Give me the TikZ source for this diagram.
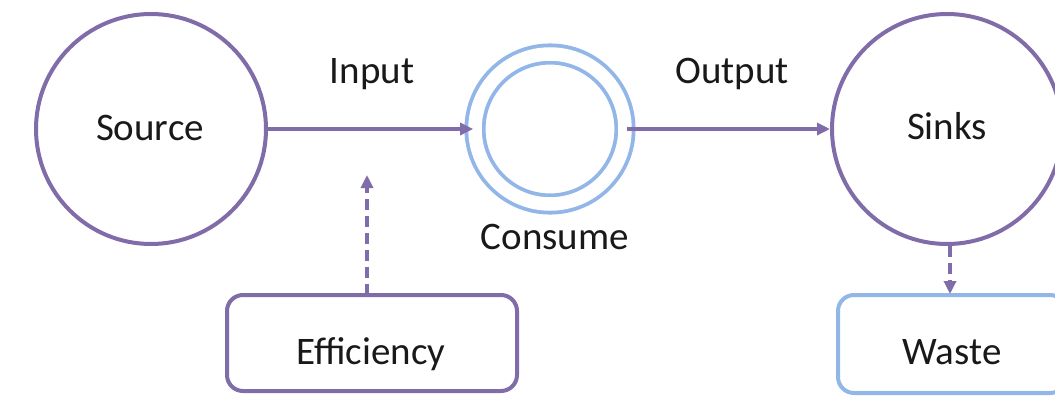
\documentclass[tikz,border=0pt]{standalone}
\usepackage{fontspec}
\setmainfont{Carlito}
\usetikzlibrary{arrows.meta}
\definecolor{flowpurple}{RGB}{128,108,168}
\definecolor{flowblue}{RGB}{146,182,232}
\definecolor{inktext}{RGB}{25,25,25}
\tikzset{
  every node/.style={font=\fontsize{39}{44}\selectfont, text=inktext},
  bigcircle/.style={circle, draw=flowpurple, line width=4pt, minimum size=230pt, inner sep=0pt},
  ringcircle/.style={circle, draw=flowblue, line width=3.8pt, double=white, double distance=13.5pt, minimum size=150pt, inner sep=0pt},
  purplebox/.style={rectangle, rounded corners=16pt, draw=flowpurple, line width=4pt, minimum width=290pt, minimum height=96pt},
  bluebox/.style={rectangle, rounded corners=16pt, draw=flowblue, line width=4pt, minimum width=228pt, minimum height=98pt},
  flow/.style={draw=flowpurple, line width=3.3pt, -{Triangle[length=13pt,width=12pt]}},
  dashflow/.style={flow, dash pattern=on 11pt off 6pt},
  label/.style={inner sep=0pt, anchor=base}
}
\begin{document}
\begin{tikzpicture}[x=1pt,y=-1pt]
  \useasboundingbox (0,0) rectangle (1055,396);
  \clip (0,0) rectangle (1055,396);

  \node[bigcircle] (source) at (151,129) {};
  \node[ringcircle] (consume) at (550,129) {};
  \node[bigcircle] (sinks) at (947,129) {};
  \node[purplebox] (eff) at (372,343) {};
  \node[bluebox] (waste) at (952,344) {};

  \node[label] (sourcetext) at (150,140) {Source};
  \node[label] (sinkstext) at (947,139) {Sinks};
  \node[label] (efftext) at (371,364) {Efficiency};
  \node[label] (wastetext) at (952,364) {Waste};
  \node[label] (consumetext) at (555,249) {Consume};
  \node[label] (inputtext) at (372,84) {Input};
  \node[label] (outputtext) at (732,84) {Output};

  \coordinate (effhead) at (367,175);
  \coordinate (efftail) at (367,295);
  \coordinate (wastehead) at (950,294);

  \draw[flow] (source.east) -- (consume.west);
  \draw[flow] (consume.east) -- (sinks.west);
  \draw[dashflow] (efftail) -- (effhead);
  \draw[dashflow] (sinks.south -| wastehead) -- (wastehead);
\end{tikzpicture}
\end{document}
